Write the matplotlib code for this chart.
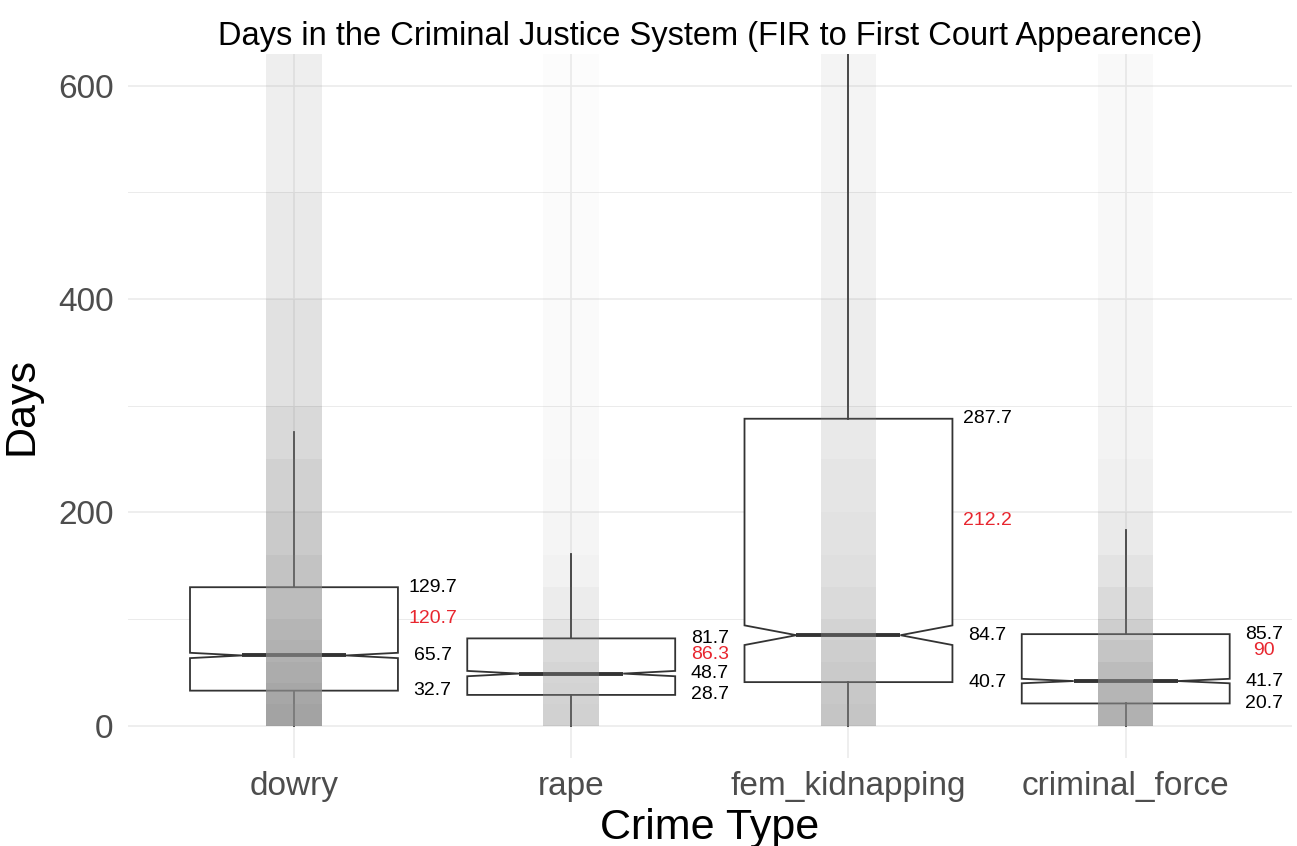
import matplotlib
matplotlib.use("Agg")
import matplotlib.pyplot as plt

plt.rcParams['font.family'] = ['Liberation Sans', 'DejaVu Sans']

categories = ['dowry', 'rape', 'fem_kidnapping', 'criminal_force']
q1 = [32.7, 28.7, 40.7, 20.7]
medians = [65.7, 48.7, 84.7, 41.7]
q3 = [129.7, 81.7, 287.7, 85.7]
means = [120.7, 86.3, 212.2, 90]
whisker_lo = [0, 0, 0, 0]
whisker_hi = [275, 161, 658, 183]
notch_lo = [63.2, 46.2, 75.5, 39.6]
notch_hi = [68.2, 51.2, 93.9, 43.8]

# shading of the jittered point cloud, per band of days
cloud_edges = [0, 20, 40, 60, 80, 100, 130, 160, 200, 250, 300, 400, 500, 640]
cloud_density = {
    'dowry':          [0.80, 0.76, 0.72, 0.68, 0.64, 0.58, 0.52, 0.46, 0.40, 0.33, 0.26, 0.19, 0.14],
    'rape':           [0.40, 0.38, 0.36, 0.32, 0.24, 0.16, 0.11, 0.08, 0.06, 0.05, 0.04, 0.03, 0.02],
    'fem_kidnapping': [0.50, 0.48, 0.46, 0.42, 0.38, 0.32, 0.28, 0.25, 0.22, 0.19, 0.15, 0.12, 0.09],
    'criminal_force': [0.68, 0.64, 0.58, 0.50, 0.42, 0.32, 0.24, 0.18, 0.13, 0.10, 0.08, 0.06, 0.05],
}

fig = plt.figure(figsize=(12.97, 8.46), dpi=100)
ax = fig.add_axes([0.0984, 0.1046, 0.8978, 0.8319])

# boxplots from the summary stats
stats = []
for i, cat in enumerate(categories):
    stats.append({'label': cat, 'q1': q1[i], 'med': medians[i], 'q3': q3[i],
                  'whislo': whisker_lo[i], 'whishi': whisker_hi[i],
                  'cilo': notch_lo[i], 'cihi': notch_hi[i], 'fliers': []})

ax.bxp(stats, positions=range(len(categories)), widths=0.75, shownotches=True,
       showcaps=False, showfliers=False, patch_artist=True,
       boxprops=dict(facecolor='white', edgecolor='#333333', linewidth=1.3),
       whiskerprops=dict(color='#333333', linewidth=1.3),
       medianprops=dict(color='#333333', linewidth=2.8),
       zorder=2)

# jitter cloud as shaded bands
for i, cat in enumerate(categories):
    dens = cloud_density[cat]
    for j in range(len(dens)):
        ax.bar(i, cloud_edges[j + 1] - cloud_edges[j], bottom=cloud_edges[j],
               width=0.2, color='#8c8c8c', alpha=dens[j], linewidth=0, zorder=3)

# value labels next to each box
for i in range(len(categories)):
    ax.text(i + 0.5, q3[i], f"{q3[i]:g}", ha='center', va='center', fontsize=14, color='black', zorder=5)
    ax.text(i + 0.5, means[i] - 20, f"{means[i]:g}", ha='center', va='center', fontsize=14, color='#e8262f', zorder=5)
    ax.text(i + 0.5, medians[i], f"{medians[i]:g}", ha='center', va='center', fontsize=14, color='black', zorder=5)
    ax.text(i + 0.5, q1[i], f"{q1[i]:g}", ha='center', va='center', fontsize=14, color='black', zorder=5)

ax.set_xlim(-0.6, 3.6)
ax.set_ylim(-30, 630)
ax.set_xticks(range(len(categories)))
ax.set_xticklabels(categories)
ax.set_yticks([0, 200, 400, 600])
ax.set_yticks([100, 300, 500], minor=True)
ax.tick_params(axis='both', which='both', length=0, labelsize=24, labelcolor='#4d4d4d')
ax.tick_params(axis='y', pad=10)
ax.tick_params(axis='x', pad=10)

ax.grid(True, which='major', color='#ebebeb', linewidth=1.2, zorder=0)
ax.grid(True, which='minor', axis='y', color='#ebebeb', linewidth=0.7, zorder=0)
ax.set_axisbelow(True)
for s in ax.spines.values():
    s.set_visible(False)

ax.set_xlabel('Crime Type', fontsize=31, labelpad=4)
ax.set_ylabel('Days', fontsize=31, labelpad=12)
ax.set_title('Days in the Criminal Justice System (FIR to First Court Appearence)', fontsize=23.5, pad=6)

fig.savefig('out.png', dpi=100)
